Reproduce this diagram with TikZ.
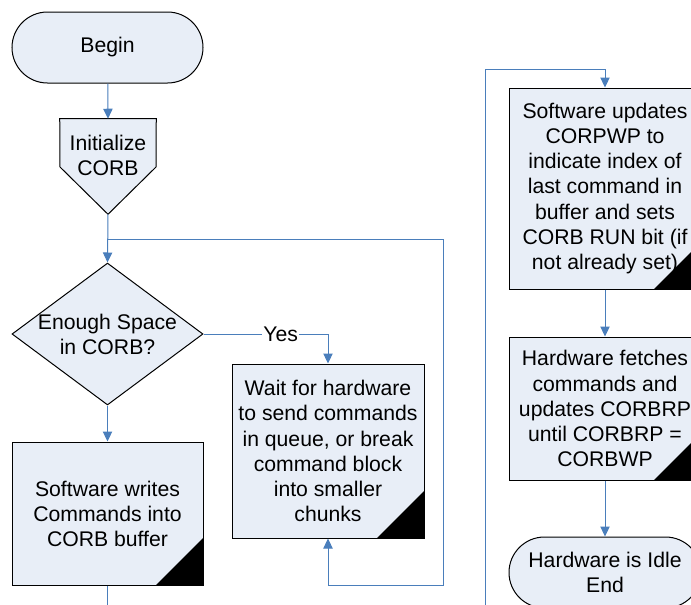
\documentclass[tikz,border=0pt]{standalone}
\usepackage{fontspec}
\setmainfont{Liberation Sans}
\usetikzlibrary{shapes.geometric,shapes.misc,arrows.meta}

\definecolor{boxfill}{RGB}{232,238,247}
\definecolor{flowblue}{RGB}{74,126,187}

\tikzset{
  txt/.style={align=center,font=\fontsize{15.9pt}{18.8pt}\selectfont,inner sep=0pt},
  shapeline/.style={draw=black,line width=0.75pt,fill=boxfill},
  term/.style={txt,shapeline,rounded rectangle,minimum width=143.25pt,minimum height=53.25pt},
  proc/.style={txt,shapeline,rectangle,minimum width=144pt},
  dec/.style={shapeline,diamond,inner sep=0pt,minimum width=143.25pt,minimum height=106.5pt},
  flow/.style={draw=flowblue,line width=0.75pt,-{Triangle[length=7.5pt,width=7pt]}},
  link/.style={draw=flowblue,line width=0.75pt},
  corner/.style={fill=black}
}

\begin{document}
\begin{tikzpicture}[x=0.75pt,y=-0.75pt]
\useasboundingbox (0,0) rectangle (691,604);

% left column
\node[term] (begin) at (107.5,47.5) {Begin};
\node[minimum width=72pt,minimum height=71.25pt,inner sep=0pt] (init) at (108,166.5) {};
\draw[shapeline] (init.north west) -- (init.north east) -- (156,167) -- (init.south) -- (60,167) -- cycle;
\node[txt] (inittxt) at (108,155) {Initialize\\CORB};
\node[dec] (space) at (107.5,334) {};
\node[txt] (spacetxt) at (space) {Enough Space\\in CORB?};
\node[proc,minimum height=107.25pt,minimum width=143.25pt] (soft) at (107.5,513.5) {Software writes\\Commands into\\CORB buffer};
\node[proc,minimum height=130.5pt] (wait) at (328,451) {Wait for hardware\\to send commands\\in queue, or break\\command block\\into smaller\\chunks};

% right column
\node[proc,minimum height=150.75pt] (update) at (605,188.5) {Software updates\\CORPWP to\\indicate index of\\last command in\\buffer and sets\\CORB RUN bit (if\\not already set)};
\node[proc,minimum height=107.25pt] (fetch) at (605,408.5) {Hardware fetches\\commands and\\updates CORBRP\\until CORBRP =\\CORBWP};
\node[term,minimum width=144pt] (idle) at (605,572.5) {Hardware is Idle\\End};

% black corners
\foreach \n in {soft,wait,update,fetch}
  \fill[corner] (\n.south east) -- ++(-48,0) -- ++(48,-48) -- cycle;

\coordinate (join) at (107,239);
\coordinate (offleft) at (107.5,610);
\coordinate (offright) at (485,610);
\coordinate (toprun) at (605,69);

% connectors
\draw[flow] (begin) -- (init.north);
\draw[flow] (init.south) -- (space.north);
\draw[flow] (join) -| (443,585) -| (wait.south);
\draw[flow] (space.east) -| node[pos=0.31,txt,fill=white,inner sep=1pt] (yes) {Yes} (wait.north);
\draw[flow] (space.south) -- (soft.north);
\draw[link] (soft.south) -- (offleft);
\draw[flow] (offright) |- (toprun) -- (update.north);
\draw[flow] (update.south) -- (fetch.north);
\draw[flow] (fetch.south) -- (idle.north);

\end{tikzpicture}
\end{document}
